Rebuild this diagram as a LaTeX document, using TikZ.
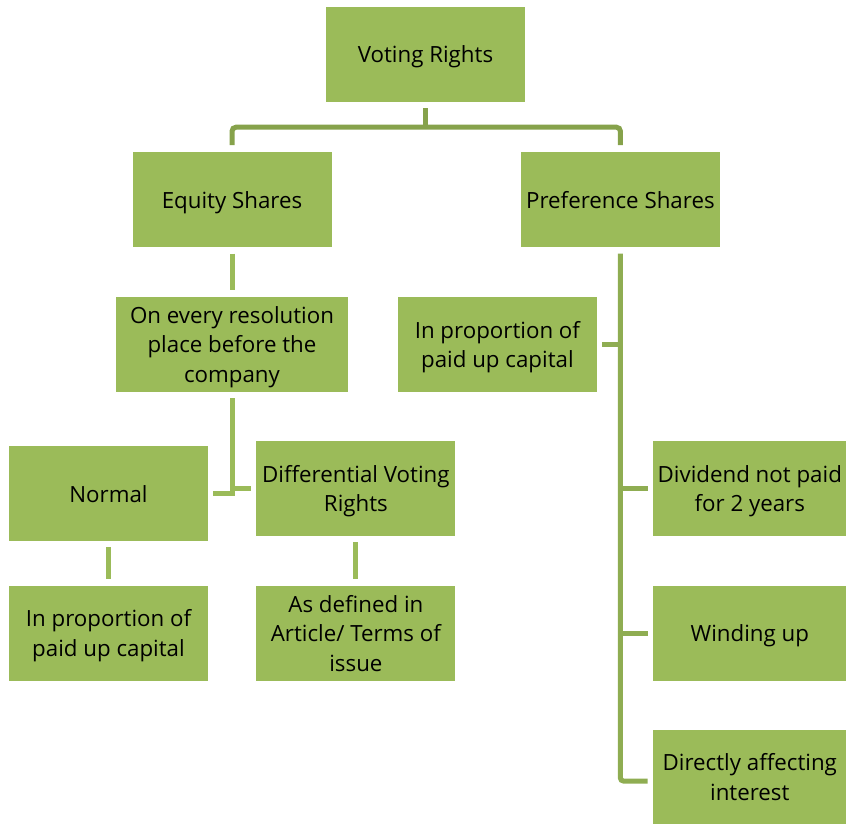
\documentclass[tikz,border=0pt]{standalone}
\usepackage{fontspec}
\setmainfont{Open Sans}
\usetikzlibrary{positioning}
\definecolor{boxgreen}{HTML}{9BBB59}
\definecolor{linkdark}{HTML}{86A24B}
\definecolor{linkmid}{HTML}{8FAD52}

\begin{document}
\begin{tikzpicture}[x=1pt, y=1pt, node distance=49pt,
    box/.style={rectangle, fill=boxgreen, minimum width=199pt, minimum height=95pt,
        inner sep=0pt, align=center, font=\fontsize{22.3}{29.5}\selectfont,
        text depth=0pt},
    link/.style={line width=5pt, boxgreen},
    trunk/.style={line width=5pt, linkmid, rounded corners=3pt}]
        \useasboundingbox (0,0) rectangle (846,-825);
        % Nodes
        \node[box] (Root) at (425.5,-54.5) {Voting Rights};
        \node[box, below=50pt of Root, xshift=-193.5pt] (Equity) {Equity Shares};
        \node[box, right=189pt of Equity] (Pref) {Preference Shares};
        \node[box, below=49pt of Equity, minimum width=232pt] (Resol) {On every resolution\\place before the\\company};
        \node[box, below=49pt of Pref, xshift=-123pt] (PrefProp) {In proportion of\\paid up capital};
        \node[box, below=54pt of Resol, xshift=-123.5pt] (Normal) {Normal};
        \node[box, right=48pt of Normal, yshift=5pt] (Diff) {Differential Voting\\Rights};
        \node[box, below=44pt of Normal] (NormProp) {In proportion of\\paid up capital};
        \node[box, below=49pt of Diff] (Defined) {As defined in\\Article/ Terms of\\issue};
        \node[box, right=197pt of Diff, minimum width=194pt] (Dividend) {Dividend not paid\\for 2 years};
        \node[box, below=49pt of Dividend, minimum width=194pt] (Winding) {Winding up};
        \node[box, below=49pt of Winding, minimum width=194pt, minimum height=94pt] (Directly) {Directly affecting\\interest};

        % Lines
        \draw[link, linkdark, rounded corners=4pt] ([yshift=7pt]Equity.north) |- ([yshift=-25pt]Root.south) -| ([yshift=7pt]Pref.north);
        \draw[link, linkdark] ([yshift=-6pt]Root.south) -- ([yshift=-25pt]Root.south);
        \draw[link] ([yshift=-6pt]Equity.south) -- ([yshift=7pt]Resol.north);
        \draw[link] ([yshift=-6pt]Resol.south) |- ([xshift=5pt]Normal.east);
        \draw[link] (Resol.south |- Diff.west) -- ([xshift=-5pt]Diff.west);
        \draw[link] ([yshift=-6pt]Normal.south) -- ([yshift=6pt]NormProp.north);
        \draw[link] ([yshift=-6pt]Diff.south) -- ([yshift=6pt]Defined.north);
        \draw[trunk] ([yshift=-6pt]Pref.south) |- ([xshift=-5pt,yshift=-4pt]Directly.west);
        \draw[trunk] (Pref.south |- PrefProp.east) -- ([xshift=5pt]PrefProp.east);
        \draw[trunk] (Pref.south |- Dividend.west) -- ([xshift=-5pt]Dividend.west);
        \draw[trunk] (Pref.south |- Winding.west) -- ([xshift=-5pt]Winding.west);
\end{tikzpicture}
\end{document}
